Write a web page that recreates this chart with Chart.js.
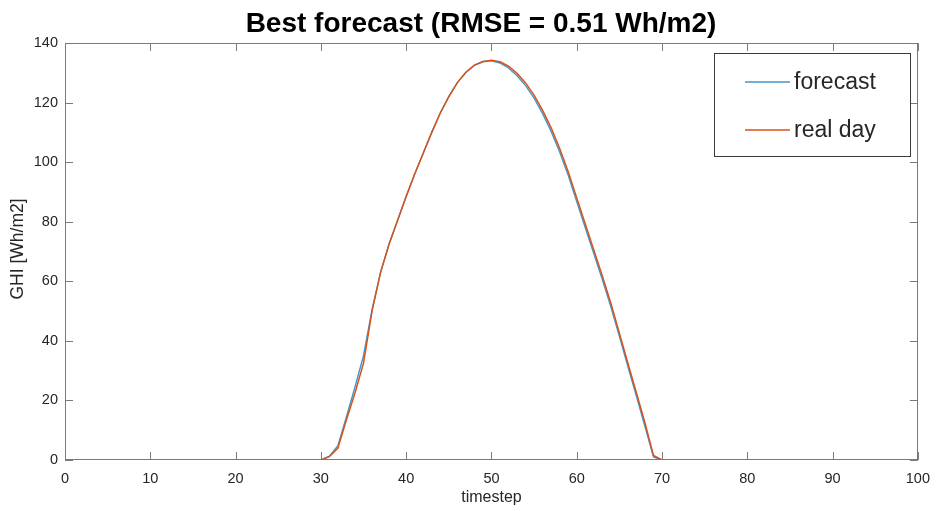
<!DOCTYPE html>
<html>
<head>
<meta charset="utf-8">
<script src="https://cdn.jsdelivr.net/npm/chart.js@4/dist/chart.umd.min.js"></script>
<style>
html,body{margin:0;padding:0;background:#fff;}
#wrap{width:940px;height:511px;position:relative;}
</style>
</head>
<body>
<div id="wrap"><canvas id="c" width="940" height="511"></canvas></div>
<script>
const timesteps = [1,2,3,4,5,6,7,8,9,10,11,12,13,14,15,16,17,18,19,20,21,22,23,24,25,26,27,28,29,30,31,32,33,34,35,36,37,38,39,40,41,42,43,44,45,46,47,48,49,50,51,52,53,54,55,56,57,58,59,60,61,62,63,64,65,66,67,68,69,70,71,72,73,74,75,76,77,78,79,80,81,82,83,84,85,86,87,88,89,90,91,92,93,94,95,96];

const forecast = [0,0,0,0,0,0,0,0,0,0,0,0,0,0,0,0,0,0,0,0,0,0,0,0,0,0,0,0,0,0,
  1.3,4.8,14.5,24.5,35,50.5,63,72.5,80.5,88.5,96,103,110,116.5,122,126.7,130.1,132.5,133.7,134.0,
  133.3,131.6,129.0,125.7,121.5,116.3,110.3,103.4,95.6,86.8,78.0,69.3,60.6,51.4,41.5,31.4,21.4,11.2,1.0,
  0,0,0,0,0,0,0,0,0,0,0,0,0,0,0,0,0,0,0,0,0,0,0,0,0,0,0];

const realDay = [0,0,0,0,0,0,0,0,0,0,0,0,0,0,0,0,0,0,0,0,0,0,0,0,0,0,0,0,0,0,
  1.1,4.0,13.5,22.5,32.5,50,63,72.5,80.5,88.5,96,103,110,116.5,122,126.7,130.2,132.6,133.8,134.2,
  133.7,132.2,129.8,126.6,122.5,117.4,111.5,104.6,96.8,88,79.2,70.5,61.8,52.6,42.6,32.5,22.5,12.4,1.5,
  0,0,0,0,0,0,0,0,0,0,0,0,0,0,0,0,0,0,0,0,0,0,0,0,0,0,0];

const xTicks = [0,10,20,30,40,50,60,70,80,90,100];
const yTicks = [0,20,40,60,80,100,120,140];
const seriesNames = ['forecast','real day'];
const titleText = 'Best forecast (RMSE = 0.51 Wh/m2)';
const xLabel = 'timestep';
const yLabel = 'GHI [Wh/m2]';

const FONT = '"Liberation Sans", Arial, Helvetica, sans-serif';
const BLUE = '#3f97cf';
const ORANGE = '#d95319';
const TXT = '#262626';
const AX = '#7a7a7a';

function pts(vals){ return timesteps.map((t,i)=>({x:t,y:vals[i]})); }

const decor = {
  id:'decor',
  afterDraw(chart){
    const ctx = chart.ctx, a = chart.chartArea;
    const xs = chart.scales.x, ys = chart.scales.y;
    ctx.save();
    // frame
    ctx.strokeStyle = AX; ctx.lineWidth = 1;
    ctx.strokeRect(Math.round(a.left)+0.5, Math.round(a.top)+0.5, Math.round(a.right-a.left)-1, Math.round(a.bottom-a.top)-1);
    // inward ticks
    const TL = 8;
    ctx.beginPath();
    xTicks.forEach(v=>{
      const px = Math.round(xs.getPixelForValue(v))+0.5;
      ctx.moveTo(px, a.bottom); ctx.lineTo(px, a.bottom-TL);
      ctx.moveTo(px, a.top); ctx.lineTo(px, a.top+TL);
    });
    yTicks.forEach(v=>{
      const py = Math.round(ys.getPixelForValue(v))+0.5;
      ctx.moveTo(a.left, py); ctx.lineTo(a.left+TL, py);
      ctx.moveTo(a.right, py); ctx.lineTo(a.right-TL, py);
    });
    ctx.stroke();
    // title
    ctx.fillStyle = '#000';
    ctx.font = 'bold 28px ' + FONT;
    ctx.textAlign = 'center'; ctx.textBaseline = 'alphabetic';
    ctx.fillText(titleText, 481, 32);
    // axis labels
    ctx.fillStyle = TXT;
    ctx.font = '16px ' + FONT;
    ctx.textBaseline = 'middle';
    ctx.fillText(xLabel, (a.left+a.right)/2, 498);
    ctx.save();
    ctx.font = '17.5px ' + FONT;
    ctx.translate(18, 249);
    ctx.rotate(-Math.PI/2);
    ctx.fillText(yLabel, 0, 0);
    ctx.restore();
    // legend
    const bx = 714.5, by = 53.5, bw = 196, bh = 103;
    ctx.fillStyle = '#fff';
    ctx.fillRect(bx, by, bw, bh);
    ctx.strokeStyle = '#3a3a3a'; ctx.lineWidth = 1;
    ctx.strokeRect(bx, by, bw, bh);
    const rows = [{y:82, c:BLUE}, {y:130, c:ORANGE}];
    ctx.font = '23px ' + FONT;
    ctx.textAlign = 'left'; ctx.textBaseline = 'middle';
    rows.forEach((r,i)=>{
      ctx.strokeStyle = r.c; ctx.lineWidth = 1.5;
      ctx.beginPath(); ctx.moveTo(745, r.y); ctx.lineTo(790, r.y); ctx.stroke();
      ctx.fillStyle = TXT;
      ctx.fillText(seriesNames[i], 794, r.y+1);
    });
    ctx.restore();
  }
};

new Chart(document.getElementById('c'), {
  type:'line',
  data:{
    datasets:[
      {label:seriesNames[0], data:pts(forecast), borderColor:BLUE, borderWidth:1.4, pointRadius:0, tension:0, fill:false, order:2},
      {label:seriesNames[1], data:pts(realDay), borderColor:ORANGE, borderWidth:1.5, pointRadius:0, tension:0, fill:false, order:1}
    ]
  },
  options:{
    responsive:false,
    animation:false,
    events:[],
    layout:{padding:{top:43, right:19, left:0, bottom:0}},
    plugins:{legend:{display:false}, title:{display:false}, tooltip:{enabled:false}},
    scales:{
      x:{
        type:'linear', min:0, max:100,
        afterFit(s){ s.height = 51; },
        afterBuildTicks(s){ s.ticks = xTicks.map(v=>({value:v})); },
        grid:{display:false, drawTicks:false},
        border:{display:false},
        ticks:{color:TXT, font:{family:FONT, size:14.5}, padding:10, maxRotation:0, autoSkip:false}
      },
      y:{
        type:'linear', min:0, max:140,
        afterFit(s){ s.width = 65; },
        afterBuildTicks(s){ s.ticks = yTicks.map(v=>({value:v})); },
        grid:{display:false, drawTicks:false},
        border:{display:false},
        ticks:{color:TXT, font:{family:FONT, size:14.5}, padding:7, autoSkip:false}
      }
    }
  },
  plugins:[decor]
});
</script>
</body>
</html>
